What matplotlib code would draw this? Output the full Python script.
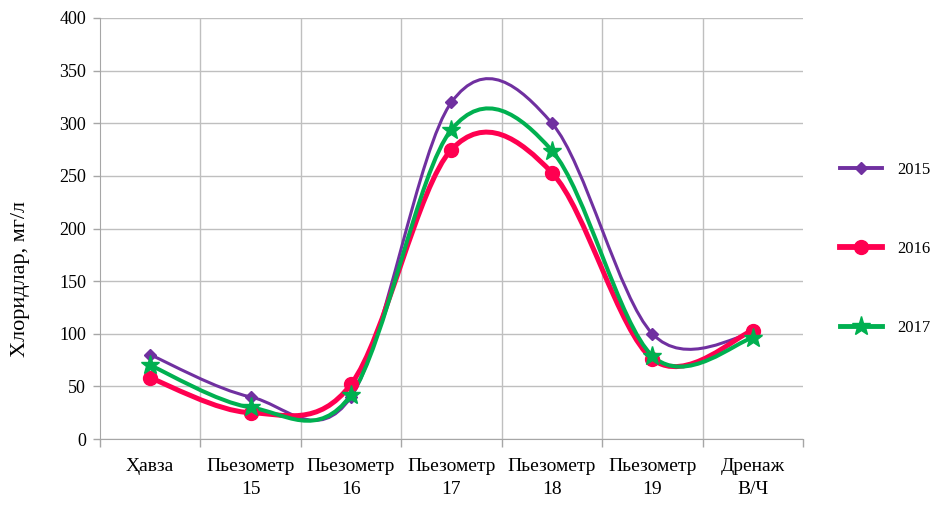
import matplotlib.pyplot as plt
from matplotlib.lines import Line2D
from matplotlib.patches import PathPatch
from matplotlib.path import Path

categories = ["Ҳавза", "Пьезометр\n15", "Пьезометр\n16", "Пьезометр\n17",
              "Пьезометр\n18", "Пьезометр\n19", "Дренаж\nВ/Ч"]
chloride_2015 = [80, 40, 40, 320, 300, 100, 100]
chloride_2016 = [58, 25, 52, 275, 253, 76, 103]
chloride_2017 = [70, 30, 42, 294, 274, 79, 96]
y_ticks = [0, 50, 100, 150, 200, 250, 300, 350, 400]

plt.rcParams['font.family'] = ['Liberation Serif', 'DejaVu Serif']


def smooth_path(xs, ys):
    """Catmull-Rom style smoothed line as a chain of cubic Bezier segments."""
    n = len(xs)
    verts = [(xs[0], ys[0])]
    codes = [Path.MOVETO]
    for i in range(n - 1):
        i0 = max(i - 1, 0)
        i3 = min(i + 2, n - 1)
        c1 = (xs[i] + (xs[i + 1] - xs[i0]) / 6, ys[i] + (ys[i + 1] - ys[i0]) / 6)
        c2 = (xs[i + 1] - (xs[i3] - xs[i]) / 6, ys[i + 1] - (ys[i3] - ys[i]) / 6)
        verts += [c1, c2, (xs[i + 1], ys[i + 1])]
        codes += [Path.CURVE4] * 3
    return Path(verts, codes)


series = [
    ("2015", chloride_2015, "#7030A0", 2.2, "D", 6.5),
    ("2016", chloride_2016, "#FF0050", 3.6, "o", 10),
    ("2017", chloride_2017, "#00B050", 2.9, "*", 14),
]

fig = plt.figure(figsize=(9.39, 5.08), dpi=100)
ax = fig.add_axes([100 / 939, 1 - 439 / 508, 703 / 939, 421 / 508])

xs = list(range(len(categories)))
handles = []
for label, values, color, lw, marker, ms in series:
    patch = PathPatch(smooth_path(xs, values), fill=False, edgecolor=color,
                      linewidth=lw, capstyle='round', joinstyle='round', zorder=3)
    ax.add_patch(patch)
    ax.plot(xs, values, linestyle='none', marker=marker, markersize=ms,
            color=color, zorder=4)
    handles.append(Line2D([], [], color=color, linewidth=lw + 0.6, marker=marker,
                          markersize=ms, label=label))

ax.set_xlim(-0.5, len(categories) - 0.5)
ax.set_ylim(0, 400)
ax.set_yticks(y_ticks)
ax.set_xticks(xs)
ax.set_xticklabels(categories, fontsize=14, linespacing=1.45)
ax.set_xticks([i - 0.5 for i in range(len(categories) + 1)], minor=True)
ax.tick_params(axis='x', which='major', length=0, pad=14)
ax.tick_params(axis='x', which='minor', length=6, color='#A6A6A6', width=1)
ax.tick_params(axis='y', length=5, color='#A6A6A6', width=1, labelsize=13, pad=5)

ax.grid(axis='y', color='#BFBFBF', linewidth=1)
for b in range(1, len(categories)):
    ax.axvline(b - 0.5, color='#BFBFBF', linewidth=1, zorder=0)
ax.set_axisbelow(True)

for side in ['top', 'right']:
    ax.spines[side].set_visible(False)
for side in ['left', 'bottom']:
    ax.spines[side].set_color('#A6A6A6')

ax.set_ylabel("Хлоридлар, мг/л", fontsize=16)
ax.yaxis.set_label_coords(-0.1, 0.38)

fig.legend(handles=handles, loc='center left', bbox_to_anchor=(832 / 939, 0.51),
           frameon=False, fontsize=12, labelspacing=3.8, handlelength=2.5,
           handletextpad=0.9, borderpad=0)

fig.savefig("out.png", dpi=100)
